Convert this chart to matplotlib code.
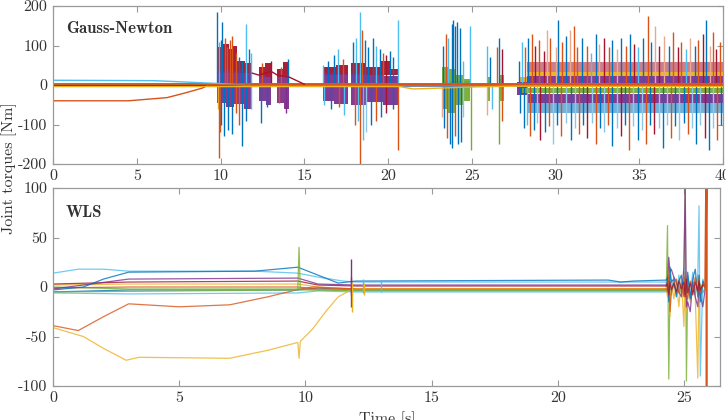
import numpy as np
import matplotlib
matplotlib.use('Agg')
import matplotlib.pyplot as plt

plt.rcParams['axes.unicode_minus'] = False

# MATLAB default colours + two pale variants
C = {'b': '#0072BD', 'o': '#D95319', 'y': '#EDB120', 'p': '#7E2F8E',
     'g': '#77AC30', 'c': '#4DBEEE', 'r': '#A2142F',
     'a': '#E9A98E', 'l': '#8CC6E8'}

# ---------------- Gauss-Newton panel ----------------
# dense bands: (t start, t end, low, high)
gn_red = [(9.85, 10.15, 30, 95), (10.15, 10.5, 30, 105), (10.5, 10.75, 30, 90),
          (10.75, 11.0, 30, 100), (11.0, 11.45, 30, 60), (11.45, 11.9, 30, 55),
          (12.3, 12.65, 20, 45), (12.65, 13.0, 20, 55), (13.4, 13.75, 20, 40),
          (13.75, 14.1, 20, 58), (16.1, 16.9, 25, 45), (16.9, 17.6, 25, 50),
          (17.8, 18.6, 25, 55), (18.6, 19.6, 25, 45), (19.6, 20.2, 25, 60),
          (20.2, 20.6, 25, 40)]
gn_purple = [(9.8, 10.3, -45, 35), (10.3, 10.8, -55, 40), (10.8, 11.4, -48, 35),
             (11.4, 11.9, -60, 30), (12.3, 12.7, -40, 25), (12.7, 13.0, -50, 20),
             (13.4, 13.8, -45, 20), (13.8, 14.1, -62, 25), (16.1, 16.8, -40, 30),
             (16.8, 17.6, -48, 28), (17.8, 18.7, -50, 30), (18.7, 19.7, -42, 25),
             (19.7, 20.6, -50, 22), (23.3, 24.9, -5, 10), (25.9, 26.1, -5, 10),
             (26.6, 26.9, -10, 15), (27.7, 28.3, -25, 8),
             (28.3, 40.0, 5, 22), (28.3, 40.0, -45, -23)]
gn_yellow = [(27.8, 28.3, 5, 20), (28.3, 40.0, 22, 33)]
gn_green = [(9.8, 11.9, -5, 5), (23.2, 23.6, -60, 45), (23.6, 24.0, -70, 40),
            (24.0, 24.5, -50, 25), (24.5, 24.9, -40, 15), (25.9, 26.1, -40, 20),
            (26.6, 26.9, -40, 25), (28.0, 40.0, -20, -8)]
gn_cyan = [(28.0, 40.0, -5, -1)]
# noisy fringe of the last segment
gn_noise_hi = [(28.3, 40.0, 33, 58)]
gn_noise_lo = [(28.3, 40.0, -70, -45)]

# spikes up
gn_up_t = [9.82, 9.9, 10.0, 10.1, 10.25, 10.4, 10.55, 10.7, 10.9, 11.1, 11.3, 11.55, 11.7, 11.85,
           12.5, 13.0, 13.6, 14.0,
           16.1, 16.4, 16.8, 17.0, 17.3, 17.9, 18.1, 18.3, 18.45, 18.6, 18.8, 19.1, 19.3, 19.5,
           19.7, 19.9, 20.1, 20.3, 20.6,
           23.3, 23.45, 23.6, 23.8, 23.9, 24.0, 24.1, 24.3, 24.5, 24.9,
           25.9, 26.1, 26.5, 26.65, 26.8,
           27.8, 28.0, 28.2, 28.35, 28.6, 28.8, 29.0, 29.3, 29.5, 29.7, 30.0, 30.15, 30.4, 30.6,
           30.85, 31.1, 31.3, 31.6, 31.9, 32.1, 32.4, 32.6, 32.9, 33.2, 33.4, 33.7, 33.9, 34.2,
           34.45, 34.7, 34.9, 35.2, 35.5, 35.7, 35.95, 36.2, 36.5, 36.8, 37.0, 37.3, 37.5, 37.8,
           38.0, 38.3, 38.5, 38.8, 39.0, 39.2, 39.4, 39.6, 39.85]
gn_up_v = [185, 110, 115, 160, 120, 95, 115, 125, 80, 70, 60, 155, 90, 80,
           55, 60, 45, 65,
           50, 60, 75, 90, 65, 110, 120, 185, 140, 115, 95, 120, 100, 90,
           80, 75, 85, 70, 165,
           100, 130, 120, 155, 165, 150, 160, 145, 60, 150,
           100, 70, 95, 120, 90,
           60, 110, 95, 120, 130, 100, 115, 85, 140, 120, 95, 165, 110, 125,
           140, 150, 95, 120, 100, 80, 130, 105, 120, 95, 115, 90, 120, 100,
           130, 105, 95, 120, 175, 110, 150, 100, 125, 100, 135, 95, 110, 90,
           120, 100, 115, 130, 165, 100, 135, 90, 110]
gn_up_c = ('bcbbooooobbcbc' + 'orob' + 'cbbcobcco' + 'bbbcborbb' + 'c' +
           'bocbbbbbcc' + 'cbobr' +
           'bcobororaoabobaooboc' + 'barobabobr' + 'cbobarabor' + 'ocabo' + 'rbaoroba')

# spikes down
gn_dn_t = [9.85, 9.9, 9.95, 10.05, 10.2, 10.45, 10.7, 10.9, 11.1, 11.3, 11.5, 11.8,
           12.4, 12.8, 13.5, 13.9,
           16.2, 16.6, 17.1, 17.4, 18.0, 18.2, 18.35, 18.5, 18.7, 19.0, 19.3, 19.6, 19.9, 20.3, 20.6,
           23.2, 23.35, 23.5, 23.7, 23.85, 24.0, 24.2, 24.35, 24.5, 24.95,
           25.9, 26.2, 26.65, 26.8,
           27.9, 28.1, 28.3, 28.5, 28.7, 28.9, 29.1, 29.35, 29.6, 29.85, 30.1, 30.35, 30.6, 30.9,
           31.15, 31.4, 31.65, 31.9, 32.15, 32.4, 32.65, 32.9, 33.15, 33.4, 33.65, 33.9, 34.15,
           34.4, 34.65, 34.9, 35.15, 35.4, 35.65, 35.9, 36.15, 36.4, 36.65, 36.9, 37.15, 37.4,
           37.65, 37.9, 38.15, 38.4, 38.65, 38.9, 39.15, 39.4, 39.65, 39.9]
gn_dn_v = [-60, -185, -120, -100, -130, -115, -125, -70, -100, -155, -90, -60,
           -95, -55, -45, -70,
           -50, -60, -55, -75, -100, -90, -200, -140, -120, -100, -90, -80, -70, -60, -165,
           -80, -110, -135, -150, -160, -130, -150, -145, -80, -165,
           -75, -60, -150, -90,
           -70, -110, -100, -130, -115, -95, -140, -120, -105, -150, -100, -130, -95, -140,
           -110, -125, -100, -135, -95, -150, -110, -120, -100, -155, -110, -130, -100,
           -165, -105, -140, -115, -150, -100, -125, -110, -160, -100, -135, -105, -140,
           -95, -125, -110, -150, -100, -135, -165, -110, -140, -100]
gn_dn_c = ('yoobbbboobbc' + 'bbop' + 'cbocococlbobrboa' + 'bobbobblga' + 'cgob' +
           'bcoblrbolbolbl' + 'obrlobloblrbo' + 'lblobrlblobl' + 'bolblrblobl')

# slow lines (t, value)
gn_cyan_t = [0, 6, 9.8, 12, 40]
gn_cyan_v = [12, 11, 4, -2, -3]
gn_orange_t = [0, 4.5, 6.8, 7.9, 8.9, 9.3, 40]
gn_orange_v = [-40, -40, -32, -20, -8, 0, 1]
gn_yellow_t = [0, 20.7, 21.5, 23.0, 25.0, 27.7, 40]
gn_yellow_v = [-4, -4, -10, -8, -5, -3, -4]
gn_redlink_t = [11.9, 12.3, 13.0, 13.4, 14.1, 15.0]
gn_redlink_v = [30, 25, 35, 25, 20, 2]
gn_flat_t = [0, 40]
gn_flat_v = {'b': -1, 'p': 1, 'g': 3, 'r': -3, 'o': 2}

# ---------------- WLS panel ----------------
wls_cyan_t = [0, 1, 2, 3, 8, 9.7, 10.5, 11.5, 12, 24.3]
wls_cyan_v = [14, 18, 18, 16, 16, 14, 10, 6, 5, 5]
wls_blue_t = [0, 1.2, 2, 3, 8, 9.7, 10.5, 11.3, 12, 22, 22.5, 23, 24.3]
wls_blue_v = [-3, 0, 8, 15, 16, 20, 12, 4, 6, 7, 5, 6, 7]
wls_orange_t = [0, 1, 2, 3, 5, 7, 8.5, 9.8, 10.3, 12, 24.3]
wls_orange_v = [-39, -44, -30, -17, -20, -18, -10, -2, 0, -2, -2]
wls_yellow_t = [0, 1.2, 2, 2.9, 3.4, 7, 8.5, 9.7, 9.75, 9.8, 10.3, 10.8, 11.3, 11.8, 12, 24.3]
wls_yellow_v = [-41, -50, -62, -74, -71, -72, -64, -56, -72, -55, -42, -25, -10, -3, -2, -2]
wls_green_t = [0, 9.7, 9.75, 9.8, 12, 24.3]
wls_green_v = [-5, -3, 40, -3, -3, -3]

wls_t0 = [0, 3, 9.7, 10.5, 12, 24.3]
wls_near = {'b': [-5, -3, -3, -1, -3, -3], 'y': [2, 3, 3, 0, -2, -2],
            'g': [0, -2, -2, -3, -4, -4], 'c': [-6, -7, -6, -4, -5, -5],
            'o': [-1, 0, 0, -2, -2, -2], 'r': [3, 5, 6, 2, 1, 1],
            'p': [-2, 8, 9, 3, 2, 2]}

wls_spk_t = [11.8, 11.82, 11.85, 12.3, 13.0, 12.32]
wls_spk_hi = [28, 10, 5, 8, 6, 4]
wls_spk_lo = [-20, -8, -25, -6, -5, -8]
wls_spk_c = 'ppyccy'

chaos_t = [24.3, 24.35, 24.4, 24.45, 24.5, 24.6, 24.7, 24.8, 24.9, 25.0, 25.05,
           25.1, 25.15, 25.25, 25.35, 25.45, 25.55, 25.6, 25.65, 25.75, 25.85]
chaos = {
    'g': [-3, 62, -93, 5, -8, 3, -5, 2, -6, 8, 100, -95, 5, -10, 4, -8, 12, -5, 3, -6, 0],
    'y': [-2, -10, 20, -30, 8, -12, 5, -20, 10, -40, 15, -25, 8, -15, 6, -10, -92, 10, -8, 4, -3],
    'c': [5, 8, -10, 15, -5, 10, -8, 12, -6, 10, 20, -10, 12, -8, 15, -5, 10, 82, -90, 8, 0],
    'p': [2, 5, 30, 15, 18, 10, 5, -5, -10, 20, 102, -20, -15, -25, 5, -10, -20, 5, -8, -20, 0],
    'b': [7, 10, -15, 20, 5, 8, -10, 6, 12, -8, 10, -5, 15, -12, 8, 18, -10, 12, -15, 6, 0],
    'o': [-2, -5, 12, -25, -5, 3, 8, -6, 4, -10, 15, -8, -12, 6, -5, 10, -6, 8, -5, 3, 0],
    'r': [1, 3, -8, 5, -3, 4, -5, 6, -2, 5, -10, 8, -6, 4, -8, 5, -4, 6, -3, 2, 0],
}
end_t = [25.85, 25.9, 25.9]
end_v = [0, 150, -150]

gn_xticks = [0, 5, 10, 15, 20, 25, 30, 35, 40]
gn_yticks = [-200, -100, 0, 100, 200]
wls_xticks = [0, 5, 10, 15, 20, 25]
wls_yticks = [-100, -50, 0, 50, 100]

FONT = 'cmr10'
FONTB = 'cmb10'
AX_COL = '#9a9a9a'
TXT_COL = '#333333'


def style(ax, xt, yt, xlim, ylim):
    ax.set_xlim(*xlim)
    ax.set_ylim(*ylim)
    ax.set_xticks(xt, [str(v) for v in xt])
    ax.set_yticks(yt, [str(v) for v in yt])
    ax.tick_params(direction='in', top=True, right=True, length=4, width=0.8,
                   color=AX_COL, labelcolor=TXT_COL, labelsize=11.5, pad=4)
    for lab in ax.get_xticklabels() + ax.get_yticklabels():
        lab.set_family(FONT)
    for s in ax.spines.values():
        s.set_color(AX_COL)
        s.set_linewidth(0.9)


def bands(ax, segs, color, alpha=0.95):
    for t0, t1, lo, hi in segs:
        ax.fill_between([t0, t1], [lo, lo], [hi, hi], color=color, lw=0, alpha=alpha)


fig = plt.figure(figsize=(7.26, 4.2), dpi=100)
ax1 = fig.add_axes([53 / 726, 1 - 164 / 420, 670 / 726, 158 / 420])
ax2 = fig.add_axes([53 / 726, 1 - 386 / 420, 667 / 726, 198 / 420])

# ---- top panel
bands(ax1, gn_noise_hi, C['r'], 0.55)
bands(ax1, gn_noise_lo, C['b'], 0.55)
bands(ax1, gn_red, C['r'])
bands(ax1, gn_yellow, C['y'])
bands(ax1, gn_purple, C['p'])
bands(ax1, gn_green, C['g'])
bands(ax1, gn_cyan, C['c'])

ax1.vlines(gn_up_t, 0, gn_up_v, colors=[C[k] for k in gn_up_c], lw=1.0)
ax1.vlines(gn_dn_t, 0, gn_dn_v, colors=[C[k] for k in gn_dn_c], lw=1.0)

for k, v in gn_flat_v.items():
    ax1.plot(gn_flat_t, [v, v], color=C[k], lw=1.2)
ax1.plot(gn_cyan_t, gn_cyan_v, color=C['c'], lw=1.0)
ax1.plot(gn_orange_t, gn_orange_v, color=C['o'], lw=1.0)
ax1.plot(gn_yellow_t, gn_yellow_v, color=C['y'], lw=1.0)
ax1.plot(gn_redlink_t, gn_redlink_v, color=C['r'], lw=1.0)

style(ax1, gn_xticks, gn_yticks, (0, 40), (-200, 200))
ax1.text(0.019, 0.86, 'Gauss-Newton', transform=ax1.transAxes, family=FONTB,
         fontsize=12, color=TXT_COL, ha='left', va='center')

# ---- bottom panel
lw2 = 0.9
for k, v in wls_near.items():
    ax2.plot(wls_t0, v, color=C[k], lw=lw2, alpha=0.8)
ax2.plot(wls_cyan_t, wls_cyan_v, color=C['c'], lw=lw2, alpha=0.8)
ax2.plot(wls_blue_t, wls_blue_v, color=C['b'], lw=lw2, alpha=0.8)
ax2.plot(wls_orange_t, wls_orange_v, color=C['o'], lw=lw2, alpha=0.8)
ax2.plot(wls_yellow_t, wls_yellow_v, color=C['y'], lw=lw2, alpha=0.8)
ax2.plot(wls_green_t, wls_green_v, color=C['g'], lw=lw2, alpha=0.8)
ax2.vlines(wls_spk_t, wls_spk_lo, wls_spk_hi, colors=[C[k] for k in wls_spk_c], lw=1.0)
for k, v in chaos.items():
    ax2.plot(chaos_t, v, color=C[k], lw=lw2, alpha=0.8)
ax2.plot(end_t, end_v, color=C['o'], lw=1.6)

style(ax2, wls_xticks, wls_yticks, (0, 26.43), (-100, 100))
ax2.text(0.019, 0.874, 'WLS', transform=ax2.transAxes, family=FONTB,
         fontsize=12, color=TXT_COL, ha='left', va='center')

fig.text(9 / 726, 1 - 168 / 420, 'Joint torques [Nm]', rotation=90, family=FONT,
         fontsize=11.5, color=TXT_COL, ha='center', va='center')
fig.text(387 / 726, 1 - 411 / 420, 'Time [s]', family=FONT,
         fontsize=11.5, color=TXT_COL, ha='center', va='top')

fig.savefig('out.png', dpi=100)
